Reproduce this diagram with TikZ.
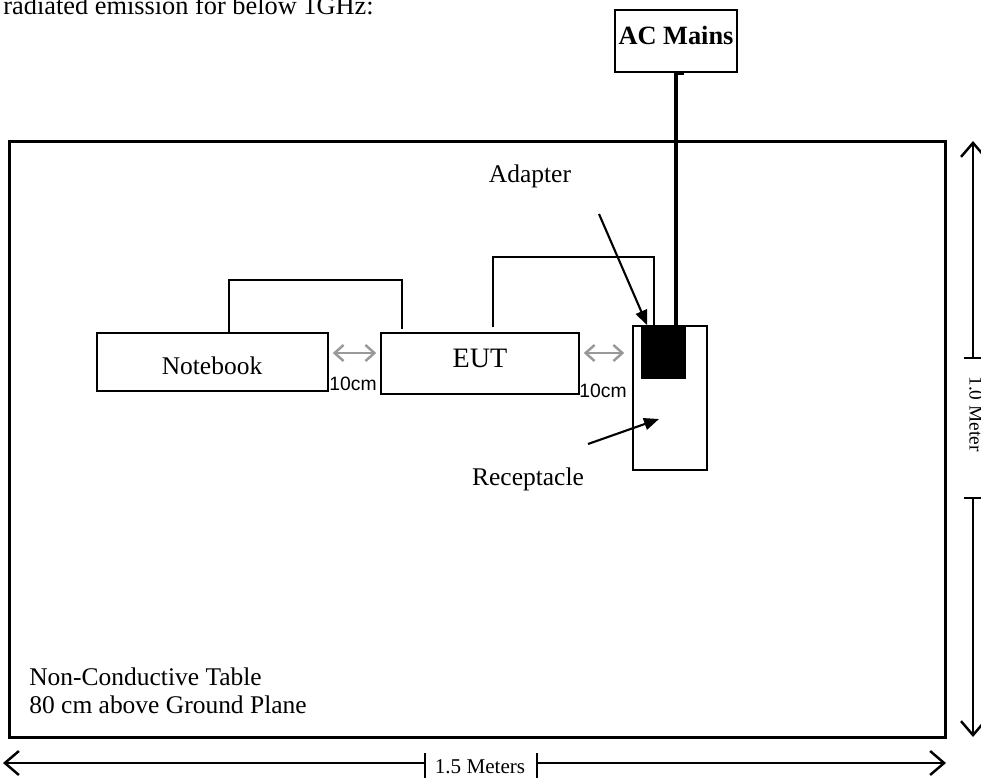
\documentclass[tikz,border=0pt]{standalone}
\usepackage{fontspec}
\setmainfont{Liberation Serif}
\newfontfamily\labelsans{Liberation Sans}
\usetikzlibrary{arrows.meta}

\begin{document}
\begin{tikzpicture}[x=0.02cm, y=-0.02cm,
	box/.style={shape=rectangle, draw, line width=0.85pt, inner sep=0pt},
	txt/.style={font=\fontsize{14.5}{17}\selectfont, inner sep=0pt},
	cable/.style={line width=0.85pt},
	mains/.style={line width=2.3pt},
	gap/.style={line width=1.4pt, draw=black!40, {Straight Barb[length=1.8mm,width=3.2mm]}-{Straight Barb[length=1.8mm,width=3.2mm]}},
	pointer/.style={line width=1.2pt, -{Triangle[length=3mm,width=2.4mm]}},
	dim/.style={line width=0.9pt, -{Straight Barb[length=2.8mm,width=4.8mm,line width=1.4pt]}},
	tick/.style={line width=0.9pt}]
	\useasboundingbox (0,0) rectangle (981,778);
	% Paths, nodes and wires:
	\node[txt, anchor=base west, font=\fontsize{15}{18}\selectfont] (title) at (3,14){radiated emission for below 1GHz:};
	\node[box, line width=1.7pt, minimum width=18.74cm, minimum height=11.94cm] (table) at (477.5, 439.5){};
	\node[txt, anchor=base west] (tbl1) at (29, 685){Non-Conductive Table};
	\node[txt, anchor=base west] (tbl2) at (29, 713){80 cm above Ground Plane};
	\node[box, minimum width=2.44cm, minimum height=1.24cm] (ac) at (676, 41){} node[txt, font=\bfseries\fontsize{15}{18}\selectfont] (actxt) at (676, 35){AC Mains};
	\node[box, minimum width=4.62cm, minimum height=1.16cm] (nb) at (212.5, 362){} node[txt] (nbtxt) at (212, 366){Notebook};
	\node[box, minimum width=3.96cm, minimum height=1.22cm] (eut) at (480, 363.5){} node[txt, font=\fontsize{16}{19}\selectfont] (euttxt) at (480, 358){EUT};
	\node[box, minimum width=1.48cm, minimum height=2.88cm] (rec) at (670, 398){};
	\node[box, fill=black, minimum width=0.86cm, minimum height=1.04cm] (adp) at (663.5, 352){};
	\node[txt, anchor=base] (adlab) at (530, 182){Adapter};
	\node[txt, anchor=base] (reclab) at (528, 485){Receptacle};
	% cables
	\coordinate (nbcab) at (229, 280);
	\coordinate (eutcab) at (402, 280);
	\draw[cable] (nb.north -| nbcab) -- (nbcab) -- (eutcab) -- ([yshift=0.06cm]eut.north -| eutcab);
	\coordinate (eutout) at (493, 257);
	\coordinate (reccab) at (654, 257);
	\draw[cable] ([yshift=0.1cm]eut.north -| eutout) -- (eutout) -- (reccab) -- (rec.north -| reccab);
	\coordinate (acx) at (676, 0);
	\draw[mains] (ac.south -| acx) -- (adp.north -| acx);
	\draw[mains] (ac.south -| acx) -- ++(8, 0);
	% pointers
	\coordinate (adparr) at (599, 214);
	\draw[pointer] (adparr) -- ([xshift=0.12cm]adp.north west);
	\coordinate (recarr) at (588, 444);
	\draw[pointer] (recarr) -- ([xshift=-0.22cm, yshift=-0.42cm]rec.center);
	% 10cm gaps
	\coordinate (gy) at (0, 353);
	\draw[gap] ([xshift=0.08cm]nb.east |- gy) -- ([xshift=-0.08cm]eut.west |- gy);
	\draw[gap] ([xshift=0.08cm]eut.east |- gy) -- ([xshift=-0.16cm]rec.west |- gy);
	\node[anchor=base, inner sep=0pt, font=\labelsans\fontsize{11}{13}\selectfont] (gap1) at (353, 390){10cm};
	\node[anchor=base, inner sep=0pt, font=\labelsans\fontsize{11}{13}\selectfont] (gap2) at (603, 397){10cm};
	% dimensions
	\coordinate (hl) at (3, 763);
	\coordinate (hr) at (946, 763);
	\coordinate (ht1) at (425, 763);
	\coordinate (ht2) at (537, 763);
	\draw[dim] (ht1) -- (hl);
	\draw[dim] (ht2) -- (hr);
	\draw[tick] (ht1) ++(0, -10) -- ++(0, 25);
	\draw[tick] (ht2) ++(0, -10) -- ++(0, 25);
	\node[txt, anchor=base, font=\fontsize{12}{14}\selectfont] (hlab) at (480, 773){1.5 Meters};
	\coordinate (vt) at (973, 141);
	\coordinate (vb) at (973, 737);
	\coordinate (vt1) at (973, 358);
	\coordinate (vt2) at (973, 498);
	\draw[dim] (vt1) -- (vt);
	\draw[dim] (vt2) -- (vb);
	\draw[tick] (vt1) ++(-9, 0) -- ++(22, 0);
	\draw[tick] (vt2) ++(-9, 0) -- ++(22, 0);
	\node[txt, rotate=-90, font=\fontsize{11}{13}\selectfont] (vlab) at (976, 414){1.0 Meter};
\end{tikzpicture}
\end{document}
